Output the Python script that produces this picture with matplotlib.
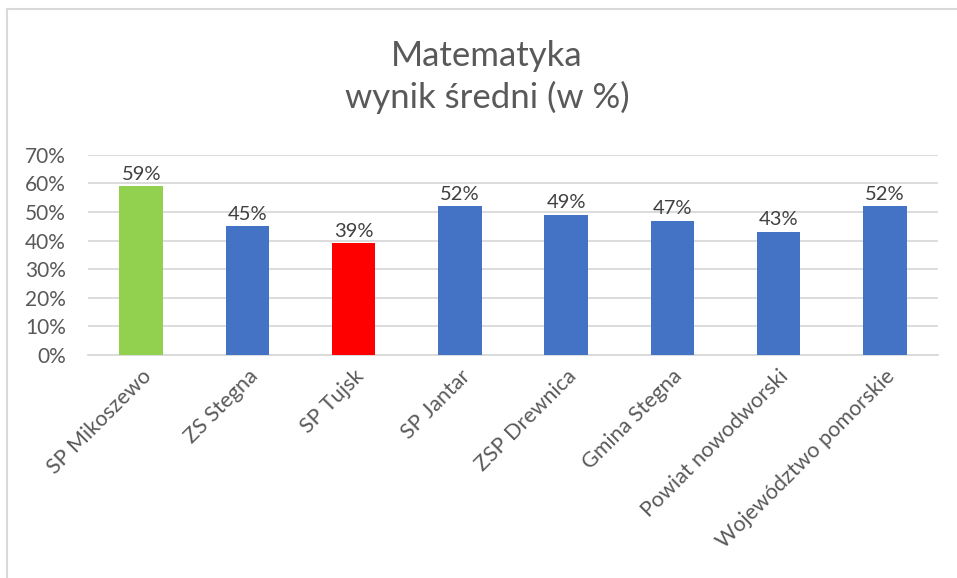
import matplotlib.pyplot as plt
from matplotlib.lines import Line2D
from matplotlib.ticker import FuncFormatter

plt.rcParams['font.family'] = ['Lato', 'DejaVu Sans']

categories = ["SP Mikoszewo", "ZS Stegna", "SP Tujsk", "SP Jantar",
              "ZSP Drewnica", "Gmina Stegna", "Powiat nowodworski",
              "Województwo pomorskie"]
values = [59, 45, 39, 52, 49, 47, 43, 52]
colors = ["#92D050", "#4472C4", "#FF0000", "#4472C4",
          "#4472C4", "#4472C4", "#4472C4", "#4472C4"]
yticks = [0, 10, 20, 30, 40, 50, 60, 70]

fig = plt.figure(figsize=(9.57, 5.78), dpi=100)
ax = fig.add_axes([0.092, 0.386, 0.888, 0.346])

x = range(len(categories))
ax.bar(x, values, width=0.41, color=colors, zorder=3)
for xi, v in zip(x, values):
    ax.text(xi, v + 1.3, f"{v}%", ha='center', va='bottom',
            fontsize=14.5, color='#404040')

ax.set_xlim(-0.5, len(categories) - 0.5)
ax.set_ylim(0, 70)
ax.set_yticks(yticks)
ax.yaxis.set_major_formatter(FuncFormatter(lambda v, p: f"{v:.0f}%"))
ax.grid(axis='y', color='#D9D9D9', linewidth=1.3, zorder=0)
ax.set_xticks(list(x))
ax.set_xticklabels(categories, rotation=45, ha='right', rotation_mode='anchor')
ax.tick_params(axis='both', length=0, labelcolor='#595959')
ax.tick_params(axis='x', pad=8, labelsize=15.5)
ax.tick_params(axis='y', pad=16, labelsize=15)
for s in ['top', 'right', 'left']:
    ax.spines[s].set_visible(False)
ax.spines['bottom'].set_color('#D9D9D9')
ax.spines['bottom'].set_linewidth(1.3)

fig.text(0.509, 0.867, "Matematyka\nwynik średni (w %)", ha='center', va='center',
         fontsize=25, color='#595959', linespacing=1.35)

# chart border (left and top edges visible)
fig.add_artist(Line2D([7 / 957, 7 / 957], [0, 1 - 9 / 578], transform=fig.transFigure,
                      color='#D9D9D9', linewidth=1.5))
fig.add_artist(Line2D([7 / 957, 1], [1 - 9 / 578, 1 - 9 / 578], transform=fig.transFigure,
                      color='#D9D9D9', linewidth=1.5))

plt.savefig("out.png", dpi=100)
